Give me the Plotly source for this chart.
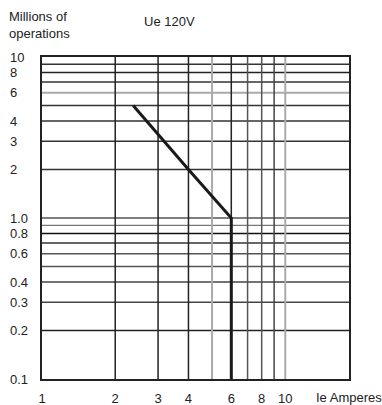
import numpy as np
import plotly.graph_objects as go

# Curva de vida eléctrica (Ue 120V)
corriente = [2.37, 4, 6, 6]
operaciones = [5, 2, 1, 0.1]

# Ticks
x_ticks = [1, 2, 3, 4, 6, 8, 10]
y_ticks = [10, 8, 6, 4, 3, 2, 1, 0.8, 0.6, 0.4, 0.3, 0.2, 0.1]
y_tick_text = ["10", "8", "6", "4", "3", "2", "1.0", "0.8", "0.6", "0.4", "0.3", "0.2", "0.1"]

# Rejilla (valor, color, grosor)
grid_y = [9, 8, 7, 6, 5, 4, 3, 2, 1, 0.9, 0.8, 0.7, 0.6, 0.5, 0.4, 0.3, 0.2]
grid_y_color = ["#333", "#222", "#333", "#aaa", "#333", "#333", "#333", "#333",
                "#555", "#777", "#111", "#666", "#555", "#555", "#444", "#444", "#222"]
grid_y_width = [1.5, 1.5, 1.5, 2, 1.5, 1.5, 1.5, 1.5,
                1.5, 1.2, 1.5, 2, 1.5, 1.5, 1.5, 1.5, 1.5]
grid_x = [2, 3, 4, 5, 6, 7, 8, 9, 10]
grid_x_color = ["#222", "#222", "#222", "#aaa", "#222", "#555", "#555", "#444", "#aaa"]
grid_x_width = [1.5, 1.5, 1.5, 2, 1.5, 1.5, 1.5, 1.5, 2]

FONT = "Liberation Sans, Arial, sans-serif"
FS = 13

fig = go.Figure()

shapes = []
for v, c, w in zip(grid_y, grid_y_color, grid_y_width):
    shapes.append(dict(type="line", xref="paper", yref="y", x0=0, x1=1, y0=v, y1=v,
                       line=dict(color=c, width=w), layer="below"))
for v, c, w in zip(grid_x, grid_x_color, grid_x_width):
    shapes.append(dict(type="line", xref="x", yref="paper", x0=v, x1=v, y0=0, y1=1,
                       line=dict(color=c, width=w), layer="below"))

fig.add_trace(go.Scatter(
    x=corriente, y=operaciones, mode="lines",
    line=dict(color="#1a1a1a", width=3),
    showlegend=False, hoverinfo="skip"
))

annotations = []
for v, t in zip(y_ticks, y_tick_text):
    annotations.append(dict(xref="paper", yref="y", x=-0.111, y=np.log10(v), text=t,
                            showarrow=False, xanchor="left", yanchor="middle",
                            font=dict(size=FS, color="#222", family=FONT)))

annotations += [
    dict(xref="paper", yref="paper", x=-0.114, y=1.099, text="Millions of<br>operations",
         showarrow=False, xanchor="left", yanchor="middle", align="left",
         font=dict(size=FS, color="#222", family=FONT)),
    dict(xref="paper", yref="paper", x=0.327, y=1.111, text="Ue 120V",
         showarrow=False, xanchor="left", yanchor="middle",
         font=dict(size=FS, color="#222", family=FONT)),
    dict(xref="paper", yref="paper", x=0.886, y=-0.056, text="Ie Amperes",
         showarrow=False, xanchor="left", yanchor="middle",
         font=dict(size=FS, color="#222", family=FONT)),
]

fig.update_layout(
    width=382, height=418,
    margin=dict(l=42, r=33, t=57, b=37),
    paper_bgcolor="white", plot_bgcolor="white",
    shapes=shapes, annotations=annotations,
    font=dict(family=FONT, size=FS, color="#222"),
    xaxis=dict(type="log", range=[0, 1.262], tickvals=x_ticks,
               ticktext=[str(v) for v in x_ticks], showgrid=False, zeroline=False,
               showline=True, mirror=True, linecolor="#222", linewidth=2,
               ticks="", ticklabelstandoff=6, tickfont=dict(size=FS)),
    yaxis=dict(type="log", range=[-1, 1], showticklabels=False, showgrid=False,
               zeroline=False, showline=True, mirror=True, linecolor="#222",
               linewidth=2, ticks=""),
)

fig.write_html("out.html",
               config={"responsive": False, "displayModeBar": False},
               post_script="document.body.style.margin='0';")
